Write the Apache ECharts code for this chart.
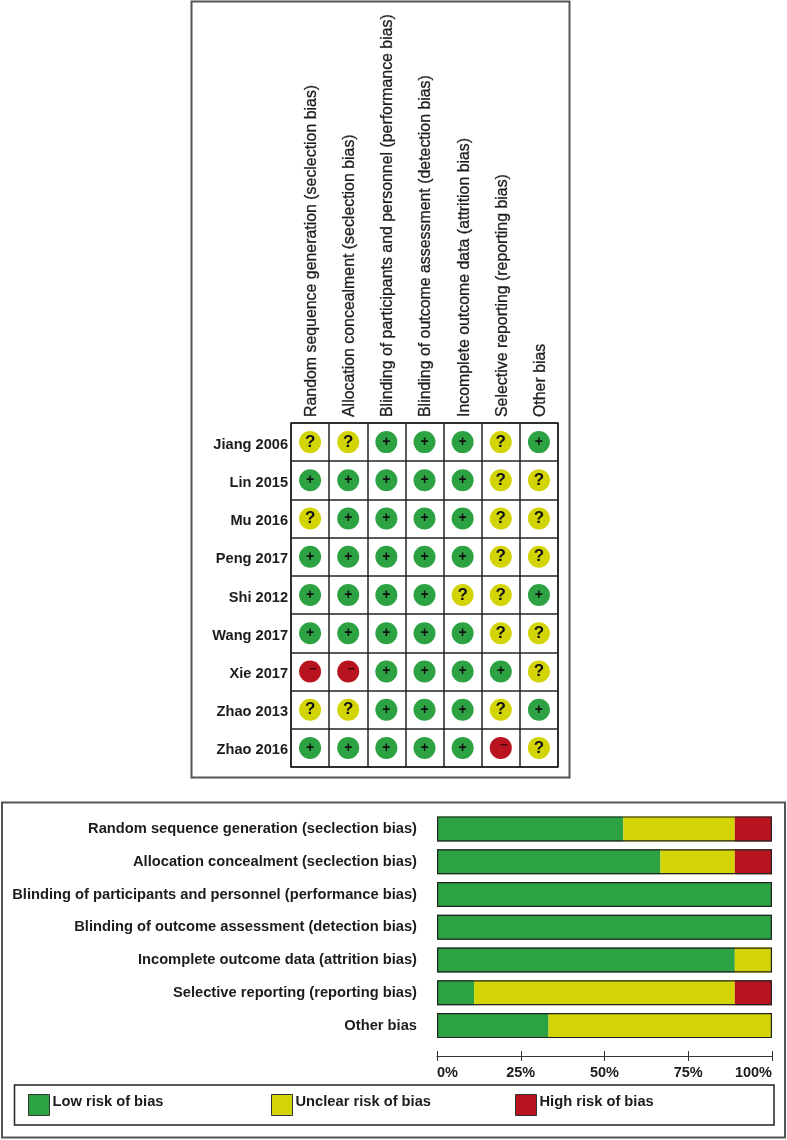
<!doctype html>
<html>
    <head>
        <meta charset="utf-8">
        <title>Risk of bias</title>
        <style>
            html, body { margin: 0; padding: 0; background: #fff; }
            #main { width: 787px; height: 1140px; }
        </style>
    </head>
    <body>
        <div id="main"></div>
        <script src="https://cdn.jsdelivr.net/npm/echarts@6/dist/echarts.min.js"></script>
        <script>
            var studies = ['Jiang 2006', 'Lin 2015', 'Mu 2016', 'Peng 2017', 'Shi 2012', 'Wang 2017', 'Xie 2017', 'Zhao 2013', 'Zhao 2016'];
            var domains = [
                'Random sequence generation (seclection bias)',
                'Allocation concealment (seclection bias)',
                'Blinding of participants and personnel (performance bias)',
                'Blinding of outcome assessment (detection bias)',
                'Incomplete outcome data (attrition bias)',
                'Selective reporting (reporting bias)',
                'Other bias'
            ];
            // one row per study, one letter per domain: L low, U unclear, H high
            var judgements = [
                'UULLLUL',
                'LLLLLUU',
                'ULLLLUU',
                'LLLLLUU',
                'LLLLUUL',
                'LLLLLUU',
                'HHLLLLU',
                'UULLLUL',
                'LLLLLHU'
            ];
            var lowPct = [55.6, 66.7, 100, 100, 88.9, 11.1, 33.3];
            var unclearPct = [33.3, 22.2, 0, 0, 11.1, 77.8, 66.7];
            var highPct = [11.1, 11.1, 0, 0, 0, 11.1, 0];
            var fullRow = [100, 100, 100, 100, 100, 100, 100];

            var GREEN = '#2ca243', YELLOW = '#d3d406', RED = '#b8141f', INK = '#1c1c1c';
            var FONT = '"Liberation Sans", Arial, sans-serif';

            function cellsFor(letter) {
                var out = [];
                judgements.forEach(function (row, r) {
                    row.split('').forEach(function (j, c) {
                        if (j === letter) out.push([c, r]);
                    });
                });
                return out;
            }

            function dots(letter, color, glyph, labelStyle) {
                return {
                    type: 'scatter',
                    xAxisIndex: 0,
                    yAxisIndex: 0,
                    symbolSize: 22,
                    silent: true,
                    itemStyle: { color: color, opacity: 1 },
                    label: Object.assign({
                        show: true,
                        position: 'inside',
                        formatter: glyph,
                        color: '#111',
                        fontFamily: FONT,
                        fontWeight: 'bold'
                    }, labelStyle),
                    data: cellsFor(letter)
                };
            }

            function stack(name, values, color) {
                return {
                    name: name,
                    type: 'bar',
                    stack: 'share',
                    xAxisIndex: 1,
                    yAxisIndex: 1,
                    barWidth: 25,
                    silent: true,
                    itemStyle: { color: color },
                    data: values
                };
            }

            function legendItem(name, color, left) {
                return {
                    show: true,
                    left: left,
                    top: 1090,
                    padding: 4,
                    icon: 'rect',
                    itemWidth: 21,
                    itemHeight: 21,
                    selectedMode: false,
                    formatter: '{t|{name}}',
                    data: [{ name: name, itemStyle: { color: color, borderColor: '#333', borderWidth: 1 } }],
                    textStyle: {
                        rich: {
                            t: { fontFamily: FONT, fontWeight: 'bold', fontSize: 14.7, color: INK, padding: [0, 0, 7, -2] }
                        }
                    }
                };
            }

            var myChart = echarts.init(document.getElementById('main'));

            var option = {
                animation: false,
                backgroundColor: '#fff',
                graphic: [
                    { type: 'rect', silent: true, shape: { x: 191.5, y: 1.5, width: 378, height: 776 }, style: { fill: 'none', stroke: '#555', lineWidth: 2 } },
                    { type: 'rect', silent: true, shape: { x: 2, y: 802.5, width: 783, height: 335 }, style: { fill: 'none', stroke: '#555', lineWidth: 2 } },
                    { type: 'rect', silent: true, shape: { x: 14.5, y: 1085, width: 759.5, height: 40 }, style: { fill: 'none', stroke: '#222', lineWidth: 1.5 } }
                ],
                legend: [
                    legendItem('Low risk of bias', GREEN, 24),
                    legendItem('Unclear risk of bias', YELLOW, 267),
                    legendItem('High risk of bias', RED, 511)
                ],
                grid: [
                    { left: 291, top: 423, width: 267, height: 344, show: true, backgroundColor: '#fff', borderColor: '#222', borderWidth: 1.5 },
                    { left: 437, top: 812.5, width: 335, height: 229.5 }
                ],
                xAxis: [
                    {
                        type: 'category',
                        gridIndex: 0,
                        position: 'top',
                        data: domains,
                        axisLine: { show: false },
                        axisTick: { show: false },
                        splitLine: { show: true, interval: 0, lineStyle: { color: '#222', width: 1.5 } },
                        axisLabel: {
                            interval: 0,
                            rotate: -90,
                            margin: 6,
                            formatter: '{t|{value}}',
                            rich: {
                                t: { fontFamily: FONT, fontSize: 15.9, color: INK, textBorderColor: INK, textBorderWidth: 0.3, padding: [3, 0, 0, 0] }
                            }
                        }
                    },
                    {
                        type: 'value',
                        gridIndex: 1,
                        position: 'bottom',
                        min: 0,
                        max: 100,
                        interval: 25,
                        offset: 14,
                        splitLine: { show: false },
                        axisLine: { show: true, lineStyle: { color: '#333', width: 1 } },
                        axisTick: { show: true, length: 5, lineStyle: { color: '#333' } },
                        axisLabel: {
                            margin: 9,
                            alignMinLabel: 'left',
                            alignMaxLabel: 'right',
                            fontFamily: FONT,
                            fontWeight: 'bold',
                            fontSize: 14.5,
                            color: INK,
                            formatter: '{value}%'
                        }
                    },
                    {
                        // same scale again, only for the upper half of each tick
                        type: 'value',
                        gridIndex: 1,
                        position: 'bottom',
                        min: 0,
                        max: 100,
                        interval: 25,
                        offset: 14,
                        splitLine: { show: false },
                        axisLine: { show: false },
                        axisTick: { show: true, inside: true, length: 5, lineStyle: { color: '#333' } },
                        axisLabel: { show: false }
                    }
                ],
                yAxis: [
                    {
                        type: 'category',
                        gridIndex: 0,
                        inverse: true,
                        data: studies,
                        axisLine: { show: false },
                        axisTick: { show: false },
                        splitLine: { show: true, interval: 0, lineStyle: { color: '#222', width: 1.5 } },
                        axisLabel: {
                            interval: 0,
                            margin: 3,
                            formatter: '{t|{value}}',
                            rich: {
                                t: { fontFamily: FONT, fontWeight: 'bold', fontSize: 14.6, color: INK, padding: [5, 0, 0, 0] }
                            }
                        }
                    },
                    {
                        type: 'category',
                        gridIndex: 1,
                        inverse: true,
                        data: domains,
                        axisLine: { show: false },
                        axisTick: { show: false },
                        axisLabel: { interval: 0, margin: 20, fontFamily: FONT, fontWeight: 'bold', fontSize: 14.7, color: INK }
                    }
                ],
                series: [
                    dots('L', GREEN, '+', { fontSize: 14 }),
                    dots('U', YELLOW, '?', { fontSize: 17 }),
                    dots('H', RED, '\u2212', { color: '#3d0508', fontSize: 13, offset: [3, -2] }),
                    stack('Low risk of bias', lowPct, GREEN),
                    stack('Unclear risk of bias', unclearPct, YELLOW),
                    stack('High risk of bias', highPct, RED),
                    {
                        // dark outline round each whole row
                        name: 'row outline',
                        type: 'bar',
                        xAxisIndex: 1,
                        yAxisIndex: 1,
                        barWidth: 25,
                        barGap: '-100%',
                        silent: true,
                        z: 3,
                        itemStyle: { color: 'transparent', borderColor: '#222', borderWidth: 1.2 },
                        data: fullRow
                    }
                ]
            };

            myChart.setOption(option);
        </script>
    </body>
</html>
